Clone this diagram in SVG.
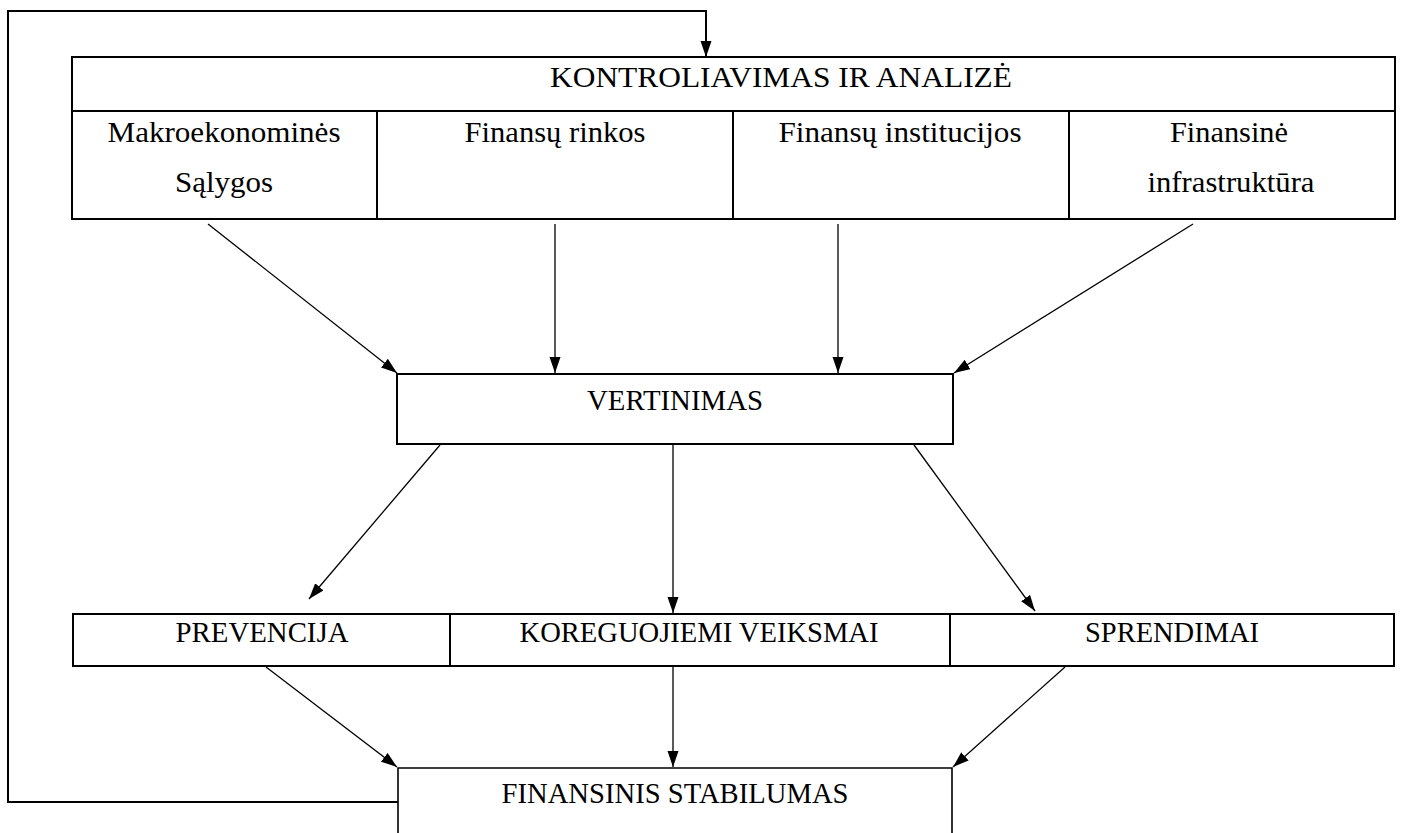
<svg xmlns="http://www.w3.org/2000/svg" width="1402" height="833" viewBox="0 0 1402 833">
<style>
  .box { fill: #ffffff; stroke: #000000; stroke-width: 2; }
  .div { stroke: #000000; stroke-width: 2; fill: none; }
  .conn { stroke: #000000; stroke-width: 1.3; fill: none; }
  .fb { stroke: #000000; stroke-width: 2; fill: none; }
  .t { font-family: "Liberation Serif", "Times New Roman", serif; font-size: 30px; fill: #000000; text-anchor: middle; }
  .c { font-family: "Liberation Serif", "Times New Roman", serif; font-size: 28.5px; fill: #000000; text-anchor: middle; }
</style>
<defs>
  <marker id="arr" markerUnits="userSpaceOnUse" markerWidth="18" markerHeight="13" refX="16" refY="5.5" orient="auto">
    <path d="M0,0 L16,5.5 L0,11 z" fill="#000000"/>
  </marker>
</defs>
<rect width="1402" height="833" fill="#ffffff"/>

<g id="node-kontroliavimas">
  <rect class="box" x="72" y="57" width="1323" height="162"/>
  <line class="div" x1="72" y1="111" x2="1395" y2="111"/>
  <line class="div" x1="377" y1="111" x2="377" y2="219"/>
  <line class="div" x1="733" y1="111" x2="733" y2="219"/>
  <line class="div" x1="1069" y1="111" x2="1069" y2="219"/>
  <text class="c" x="781" y="87" textLength="462" lengthAdjust="spacingAndGlyphs">KONTROLIAVIMAS IR ANALIZĖ</text>
</g>
<g id="node-makro">
  <text class="t" x="224" y="142" textLength="233" lengthAdjust="spacingAndGlyphs">Makroekonominės</text>
  <text class="t" x="224" y="192" textLength="98" lengthAdjust="spacingAndGlyphs">Sąlygos</text>
</g>
<g id="node-rinkos">
  <text class="t" x="555" y="142" textLength="181" lengthAdjust="spacingAndGlyphs">Finansų rinkos</text>
</g>
<g id="node-institucijos">
  <text class="t" x="900" y="142" textLength="243" lengthAdjust="spacingAndGlyphs">Finansų institucijos</text>
</g>
<g id="node-infrastruktura">
  <text class="t" x="1229" y="142" textLength="118" lengthAdjust="spacingAndGlyphs">Finansinė</text>
  <text class="t" x="1231" y="192" textLength="167" lengthAdjust="spacingAndGlyphs">infrastruktūra</text>
</g>

<g id="node-vertinimas">
  <rect class="box" x="397" y="374" width="556" height="70"/>
  <text class="c" x="675" y="410" textLength="176" lengthAdjust="spacingAndGlyphs">VERTINIMAS</text>
</g>

<g id="node-veiksmai-row">
  <rect class="box" x="73" y="614" width="1321" height="52"/>
  <line class="div" x1="450" y1="614" x2="450" y2="666"/>
  <line class="div" x1="950" y1="614" x2="950" y2="666"/>
</g>
<g id="node-prevencija">
  <text class="c" x="262" y="642" textLength="173" lengthAdjust="spacingAndGlyphs">PREVENCIJA</text>
</g>
<g id="node-koreguojiemi">
  <text class="c" x="699" y="642" textLength="359" lengthAdjust="spacingAndGlyphs">KOREGUOJIEMI VEIKSMAI</text>
</g>
<g id="node-sprendimai">
  <text class="c" x="1172" y="642" textLength="174" lengthAdjust="spacingAndGlyphs">SPRENDIMAI</text>
</g>

<g id="node-stabilumas">
  <path d="M398,840 L398,768 L952,768 L952,840" fill="#ffffff" stroke="#000000" stroke-width="1.6"/>
  <text class="c" x="675" y="803" textLength="347" lengthAdjust="spacingAndGlyphs">FINANSINIS STABILUMAS</text>
</g>

<g id="connectors">
  <polyline class="fb" points="398,802 8,802 8,11 706,11 706,57" marker-end="url(#arr)"/>
  <line class="conn" x1="208" y1="224" x2="397" y2="373" marker-end="url(#arr)"/>
  <line class="conn" x1="555" y1="224" x2="555" y2="373" marker-end="url(#arr)"/>
  <line class="conn" x1="838" y1="224" x2="838" y2="373" marker-end="url(#arr)"/>
  <line class="conn" x1="1193" y1="224" x2="954" y2="373" marker-end="url(#arr)"/>
  <line class="conn" x1="440" y1="445" x2="309" y2="599" marker-end="url(#arr)"/>
  <line class="conn" x1="673" y1="445" x2="673" y2="613" marker-end="url(#arr)"/>
  <line class="conn" x1="914" y1="445" x2="1035" y2="611" marker-end="url(#arr)"/>
  <line class="conn" x1="266" y1="667" x2="397" y2="767" marker-end="url(#arr)"/>
  <line class="conn" x1="673" y1="667" x2="673" y2="767" marker-end="url(#arr)"/>
  <line class="conn" x1="1065" y1="667" x2="953" y2="767" marker-end="url(#arr)"/>
</g>
</svg>
